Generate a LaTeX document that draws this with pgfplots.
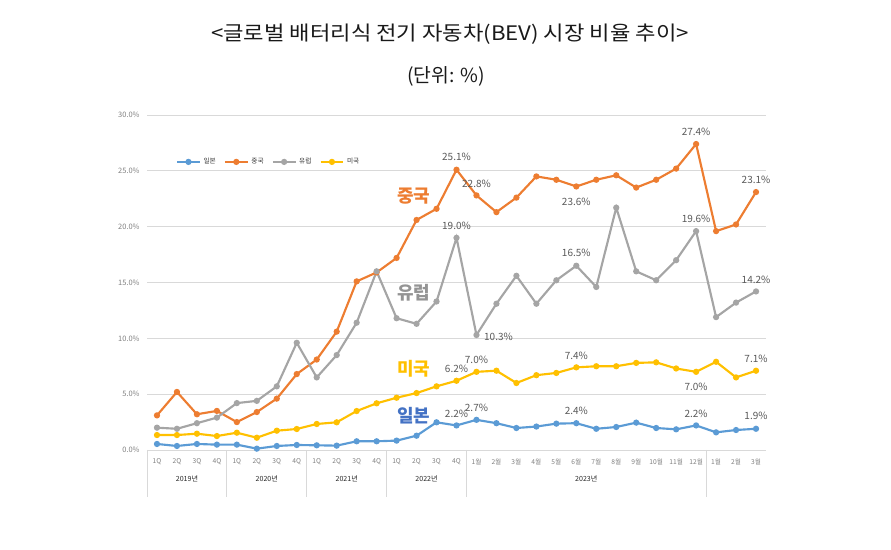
\documentclass[border=0pt]{standalone}
\usepackage{pgfplots}
\usepackage{pgfplotstable}
\pgfplotsset{compat=1.18}
\usepackage{fontspec}
\setmainfont{Noto Sans CJK KR}
\definecolor{cJP}{HTML}{5B9BD5}
\definecolor{cCN}{HTML}{ED7D31}
\definecolor{cEU}{HTML}{A5A5A5}
\definecolor{cUS}{HTML}{FFC000}
\definecolor{cJPt}{HTML}{4472C4}
\definecolor{tickgray}{HTML}{7F7F7F}
\definecolor{gridgray}{HTML}{D9D9D9}
\definecolor{lblgray}{HTML}{595959}
\pgfplotstableread{
i JP CN EU US
0 0.54 3.1 2.0 1.34
1 0.36 5.2 1.9 1.34
2 0.54 3.2 2.4 1.46
3 0.48 3.5 2.9 1.25
4 0.48 2.5 4.2 1.55
5 0.12 3.4 4.4 1.10
6 0.36 4.6 5.7 1.73
7 0.45 6.8 9.6 1.88
8 0.42 8.1 6.5 2.33
9 0.39 10.6 8.5 2.48
10 0.78 15.1 11.4 3.49
11 0.78 15.9 16.0 4.18
12 0.84 17.2 11.8 4.68
13 1.28 20.6 11.3 5.10
14 2.48 21.6 13.3 5.70
15 2.20 25.1 19.0 6.20
16 2.70 22.8 10.3 7.00
17 2.40 21.3 13.1 7.10
18 1.97 22.6 15.6 6.00
19 2.10 24.5 13.1 6.70
20 2.36 24.2 15.2 6.90
21 2.40 23.6 16.5 7.40
22 1.90 24.2 14.6 7.50
23 2.06 24.6 21.7 7.50
24 2.45 23.5 16.0 7.80
25 1.97 24.2 15.2 7.85
26 1.85 25.2 17.0 7.30
27 2.20 27.4 19.6 7.00
28 1.58 19.6 11.9 7.90
29 1.79 20.2 13.2 6.50
30 1.90 23.1 14.2 7.10
}\datatable
\begin{document}
\begin{tikzpicture}[x=0.75pt,y=0.75pt]
\path (0,0) rectangle (891,549);
\node[font=\fontsize{15}{16}\selectfont, text=black!90, xscale=1.11] at (450,515) {<글로벌 배터리식 전기 자동차(BEV) 시장 비율 추이>};
\node[font=\fontsize{14.5}{16}\selectfont, text=black!90] at (446,473) {(단위: \%)};
\begin{axis}[
  at={(110.25pt,74.25pt)}, anchor=south west,
  width=464.25pt, height=251.25pt, scale only axis,
  xmin=-0.5, xmax=30.5, ymin=0, ymax=30,
  ytick={0,5,...,30},
  yticklabel={\pgfmathprintnumber[fixed,fixed zerofill,precision=1]{\tick}\%},
  /pgf/number format/assume math mode=true,
  ymajorgrids, grid style={gridgray, line width=0.6pt},
  axis x line*=bottom, axis y line*=left,
  y axis line style={draw=none},
  x axis line style={gridgray, line width=0.6pt},
  major tick length=0pt,
  xtick={0,...,30},
  xticklabels={1Q,2Q,3Q,4Q,1Q,2Q,3Q,4Q,1Q,2Q,3Q,4Q,1Q,2Q,3Q,4Q,1월,2월,3월,4월,5월,6월,7월,8월,9월,10월,11월,12월,1월,2월,3월},
  xticklabel style={font=\fontsize{5}{5}\selectfont, text=tickgray, yshift=-3pt},
  yticklabel style={font=\fontsize{5.6}{6}\selectfont, text=tickgray, xshift=-2pt},
  legend style={at={(0.04,0.86)}, anchor=west, draw=none, fill=none,
    font=\fontsize{5}{5}\selectfont, text=black!80,
    /tikz/every even column/.append style={column sep=4pt}},
  legend columns=4,
  every axis plot/.append style={line width=1.6pt, mark=*, mark size=1.5pt},
  clip=false,
]
\addplot[color=cJP] table[x=i,y=JP]{\datatable};
\addlegendentry{일본}
\addplot[color=cCN] table[x=i,y=CN]{\datatable};
\addlegendentry{중국}
\addplot[color=cEU] table[x=i,y=EU]{\datatable};
\addlegendentry{유럽}
\addplot[color=cUS] table[x=i,y=US]{\datatable};
\addlegendentry{미국}
% group separators
\draw[gridgray, line width=0.6pt] (axis cs:-0.5,0) -- ++(0pt,-35pt);
\draw[gridgray, line width=0.6pt] (axis cs:3.5,0) -- ++(0pt,-35pt);
\draw[gridgray, line width=0.6pt] (axis cs:7.5,0) -- ++(0pt,-35pt);
\draw[gridgray, line width=0.6pt] (axis cs:11.5,0) -- ++(0pt,-35pt);
\draw[gridgray, line width=0.6pt] (axis cs:15.5,0) -- ++(0pt,-35pt);
\draw[gridgray, line width=0.6pt] (axis cs:27.5,0) -- ++(0pt,-35pt);
\node[font=\fontsize{5.3}{6}\selectfont, text=black!85, yshift=-21.5pt] at (axis cs:1.5,0) {2019년};
\node[font=\fontsize{5.3}{6}\selectfont, text=black!85, yshift=-21.5pt] at (axis cs:5.5,0) {2020년};
\node[font=\fontsize{5.3}{6}\selectfont, text=black!85, yshift=-21.5pt] at (axis cs:9.5,0) {2021년};
\node[font=\fontsize{5.3}{6}\selectfont, text=black!85, yshift=-21.5pt] at (axis cs:13.5,0) {2022년};
\node[font=\fontsize{5.3}{6}\selectfont, text=black!85, yshift=-21.5pt] at (axis cs:21.5,0) {2023년};
% series names
\node[font=\fontsize{13.5}{15}\selectfont\bfseries, text=cCN] at (axis cs:12.85,22.7) {중국};
\node[font=\fontsize{13.5}{15}\selectfont\bfseries, text=cEU!90!black] at (axis cs:12.85,14.1) {유럽};
\node[font=\fontsize{13.5}{15}\selectfont\bfseries, text=cUS] at (axis cs:12.85,7.25) {미국};
\node[font=\fontsize{13.5}{15}\selectfont\bfseries, text=cJPt] at (axis cs:12.85,3.1) {일본};
% data labels
\tikzset{dl/.style={font=\fontsize{7.5}{8}\selectfont, text=lblgray}}
\node[dl, yshift=9.3pt] at (axis cs:15,25.1) {25.1\%};
\node[dl, yshift=9pt] at (axis cs:16,22.8) {22.8\%};
\node[dl, yshift=9pt] at (axis cs:27,27.4) {27.4\%};
\node[dl, yshift=9.5pt] at (axis cs:30,23.1) {23.1\%};
\node[dl, yshift=-11.5pt] at (axis cs:21,23.6) {23.6\%};
\node[dl, yshift=9pt] at (axis cs:15,19.0) {19.0\%};
\node[dl, yshift=9.5pt] at (axis cs:21,16.5) {16.5\%};
\node[dl, yshift=9.5pt] at (axis cs:27,19.6) {19.6\%};
\node[dl, yshift=9pt] at (axis cs:30,14.2) {14.2\%};
\node[dl, xshift=16.5pt, yshift=-1.5pt] at (axis cs:16,10.3) {10.3\%};
\node[dl, yshift=9pt] at (axis cs:15,6.2) {6.2\%};
\node[dl, yshift=9pt] at (axis cs:16,7.0) {7.0\%};
\node[dl, yshift=9pt] at (axis cs:21,7.4) {7.4\%};
\node[dl, yshift=-11.5pt] at (axis cs:27,7.0) {7.0\%};
\node[dl, yshift=9pt] at (axis cs:30,7.1) {7.1\%};
\node[dl, yshift=9pt] at (axis cs:15,2.2) {2.2\%};
\node[dl, yshift=9pt] at (axis cs:16,2.7) {2.7\%};
\node[dl, yshift=9pt] at (axis cs:21,2.4) {2.4\%};
\node[dl, yshift=9pt] at (axis cs:27,2.2) {2.2\%};
\node[dl, yshift=9.5pt] at (axis cs:30,1.9) {1.9\%};
\end{axis}
\end{tikzpicture}
\end{document}
